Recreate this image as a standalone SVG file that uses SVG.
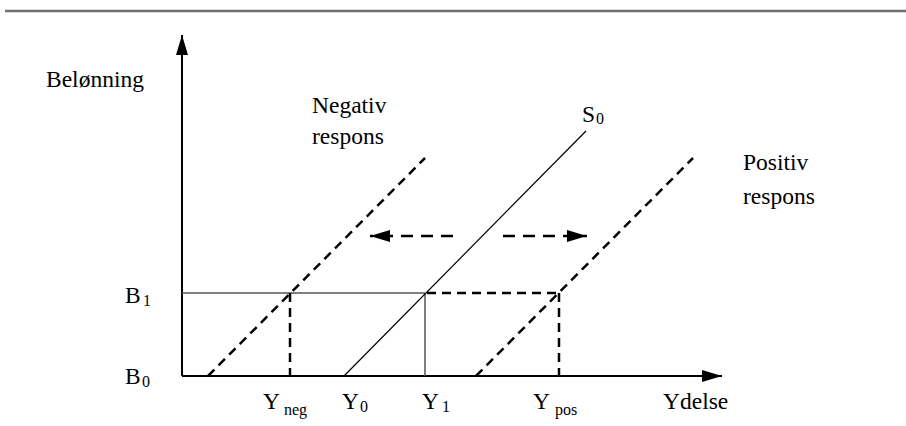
<svg xmlns="http://www.w3.org/2000/svg" width="906" height="426" viewBox="0 0 906 426">
<style>
text{font-family:"Liberation Serif","Times New Roman",serif;fill:#000}
.t{font-size:23.5px}
.s{font-size:16px}
.ax{stroke:#000;stroke-width:2;fill:none}
.thin{stroke:#000;stroke-width:1.2;fill:none}
.gray{stroke:#555;stroke-width:1.5;fill:none}
.dash{stroke:#000;stroke-width:2.5;stroke-dasharray:9 6;fill:none}
.hdash{stroke:#000;stroke-width:2.5;stroke-dasharray:12 8;fill:none}
</style>
<defs>
<marker id="ah" viewBox="0 0 20 12" refX="20" refY="6" markerWidth="20" markerHeight="12" markerUnits="userSpaceOnUse" orient="auto">
<path d="M0,0 L20,6 L0,12 Z" fill="#000"/>
</marker>
</defs>
<line x1="5" y1="11" x2="906" y2="11" stroke="#707070" stroke-width="2.5"/>
<g id="axes">
<line class="ax" x1="182" y1="376" x2="182" y2="35" marker-end="url(#ah)"/>
<line class="ax" x1="182" y1="376" x2="722" y2="376" marker-end="url(#ah)"/>
</g>
<g id="connectors">
<line class="gray" x1="182" y1="293" x2="425" y2="293"/>
<line class="gray" x1="425" y1="293" x2="425" y2="376"/>
<line class="dash" x1="427" y1="293" x2="559" y2="293"/>
<line class="dash" x1="559" y1="293" x2="559" y2="376"/>
<line class="dash" x1="290" y1="293" x2="290" y2="376"/>
<line class="dash" x1="208" y1="376" x2="425" y2="158"/>
<line class="dash" x1="476" y1="376" x2="693" y2="158"/>
<line class="thin" x1="344" y1="376" x2="586" y2="131"/>
<line class="hdash" x1="453" y1="236" x2="370" y2="236" marker-end="url(#ah)"/>
<line class="hdash" x1="503" y1="236" x2="587" y2="236" marker-end="url(#ah)"/>
</g>
<g id="labels">
<text class="t" x="46" y="87">Belønning</text>
<text class="t" x="312" y="113">Negativ</text>
<text class="t" x="312" y="144">respons</text>
<text class="t" x="582" y="122">S</text><text class="s" x="596" y="124">0</text>
<text class="t" x="743" y="170">Positiv</text>
<text class="t" x="743" y="204">respons</text>
<text class="t" x="125" y="303">B</text><text class="s" x="143" y="306">1</text>
<text class="t" x="125" y="384">B</text><text class="s" x="142" y="387">0</text>
<text class="t" x="263" y="409">Y</text><text class="s" x="284" y="415">neg</text>
<text class="t" x="342" y="409">Y</text><text class="s" x="360" y="412">0</text>
<text class="t" x="422" y="409">Y</text><text class="s" x="442" y="412">1</text>
<text class="t" x="533" y="409">Y</text><text class="s" x="555" y="415">pos</text>
<text class="t" x="663" y="409">Ydelse</text>
</g>
</svg>
